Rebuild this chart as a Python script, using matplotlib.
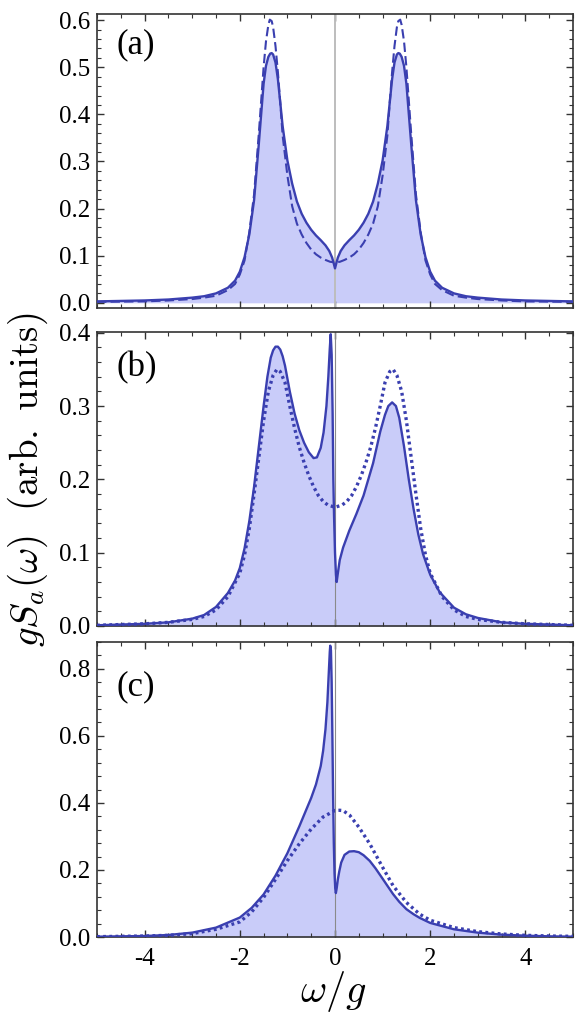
import matplotlib
matplotlib.use("Agg")
import matplotlib.pyplot as plt
from matplotlib.ticker import MultipleLocator, FormatStrFormatter

plt.rcParams['font.family'] = ['Liberation Serif', 'DejaVu Serif']
plt.rcParams['mathtext.fontset'] = 'cm'
plt.rcParams['axes.unicode_minus'] = False

# panel (a): solid (filled) and dashed curves
xa = [-5, -4.5, -4, -3.5, -3, -2.75, -2.5, -2.25, -2.1, -2.0, -1.9, -1.8, -1.7, -1.6, -1.5,
      -1.45, -1.4, -1.36, -1.33, -1.3, -1.25, -1.2, -1.15, -1.1, -1.0, -0.9, -0.8, -0.7,
      -0.6, -0.5, -0.4, -0.3, -0.2, -0.12, -0.06, -0.03, 0,
      0.03, 0.06, 0.12, 0.2, 0.3, 0.4, 0.5, 0.6, 0.7, 0.8, 0.9, 1.0, 1.1, 1.15, 1.2, 1.25,
      1.3, 1.33, 1.36, 1.4, 1.45, 1.5, 1.6, 1.7, 1.8, 1.9, 2.0, 2.1, 2.25, 2.5, 2.75, 3,
      3.5, 4, 4.5, 5]
ya_solid = [0.003, 0.004, 0.005, 0.007, 0.011, 0.014, 0.020, 0.032, 0.047, 0.066, 0.097,
            0.145, 0.218, 0.338, 0.465, 0.503, 0.522, 0.529, 0.530, 0.527, 0.510, 0.475,
            0.425, 0.375, 0.302, 0.253, 0.215, 0.189, 0.170, 0.155, 0.143, 0.133, 0.122,
            0.110, 0.096, 0.085, 0.073,
            0.085, 0.096, 0.110, 0.122, 0.133, 0.143, 0.155, 0.170, 0.189, 0.215, 0.253,
            0.302, 0.375, 0.425, 0.475, 0.510, 0.527, 0.530, 0.529, 0.522, 0.503, 0.465,
            0.338, 0.218, 0.145, 0.097, 0.066, 0.047, 0.032, 0.020, 0.014, 0.011, 0.007,
            0.005, 0.004, 0.003]
xa_dash = [-5, -4.5, -4, -3.5, -3, -2.75, -2.5, -2.25, -2.1, -2.0, -1.9, -1.8, -1.7, -1.6,
           -1.5, -1.45, -1.4, -1.37, -1.33, -1.3, -1.25, -1.2, -1.15, -1.1, -1.0, -0.9,
           -0.8, -0.7, -0.6, -0.5, -0.4, -0.3, -0.2, -0.1, 0,
           0.1, 0.2, 0.3, 0.4, 0.5, 0.6, 0.7, 0.8, 0.9, 1.0, 1.1, 1.15, 1.2, 1.25, 1.3,
           1.33, 1.37, 1.4, 1.45, 1.5, 1.6, 1.7, 1.8, 1.9, 2.0, 2.1, 2.25, 2.5, 2.75, 3,
           3.5, 4, 4.5, 5]
ya_dash = [0.002, 0.0025, 0.003, 0.005, 0.008, 0.011, 0.015, 0.027, 0.040, 0.060, 0.090,
           0.150, 0.230, 0.360, 0.500, 0.555, 0.590, 0.601, 0.598, 0.585, 0.545, 0.490,
           0.425, 0.355, 0.270, 0.205, 0.168, 0.145, 0.127, 0.113, 0.103, 0.096, 0.091,
           0.087, 0.086,
           0.087, 0.091, 0.096, 0.103, 0.113, 0.127, 0.145, 0.168, 0.205, 0.270, 0.355,
           0.425, 0.490, 0.545, 0.585, 0.598, 0.601, 0.590, 0.555, 0.500, 0.360, 0.230,
           0.150, 0.090, 0.060, 0.040, 0.027, 0.015, 0.011, 0.008, 0.005, 0.003, 0.0025,
           0.002]

# panel (b): solid (filled) and dotted curves
xb = [-5, -4.5, -4, -3.5, -3, -2.75, -2.5, -2.25, -2.1, -2.0, -1.9, -1.8, -1.7, -1.6, -1.5,
      -1.42, -1.35, -1.3, -1.25, -1.2, -1.15, -1.1, -1.05, -0.95, -0.85, -0.75, -0.65,
      -0.55, -0.45, -0.38, -0.3, -0.24, -0.18, -0.14, -0.11, -0.09, -0.07, -0.05, -0.035,
      -0.02, 0, 0.02, 0.035, 0.06, 0.1, 0.17, 0.3, 0.45, 0.6, 0.8, 0.95, 1.05, 1.12, 1.2,
      1.28, 1.35, 1.45, 1.55, 1.65, 1.75, 1.85, 2.0, 2.2, 2.5, 2.75, 3, 3.5, 4, 4.5, 5]
yb_solid = [0.001, 0.002, 0.003, 0.005, 0.010, 0.015, 0.026, 0.045, 0.062, 0.079, 0.106,
            0.143, 0.190, 0.245, 0.300, 0.340, 0.366, 0.376, 0.381, 0.381, 0.377, 0.368,
            0.355, 0.320, 0.290, 0.267, 0.250, 0.237, 0.229, 0.230, 0.243, 0.264, 0.300,
            0.340, 0.378, 0.398, 0.370, 0.290, 0.200, 0.150, 0.100, 0.070, 0.060, 0.072,
            0.090, 0.107, 0.130, 0.153, 0.178, 0.222, 0.265, 0.288, 0.300, 0.305, 0.300,
            0.284, 0.245, 0.200, 0.160, 0.125, 0.098, 0.070, 0.046, 0.025, 0.016, 0.011,
            0.005, 0.003, 0.002, 0.001]
xb_dot = [-5, -4.5, -4, -3.5, -3, -2.75, -2.5, -2.25, -2.0, -1.9, -1.8, -1.7, -1.6, -1.5,
          -1.4, -1.3, -1.22, -1.15, -1.05, -0.95, -0.85, -0.75, -0.65, -0.55, -0.45, -0.35,
          -0.25, -0.15, 0, 0.15, 0.25, 0.35, 0.45, 0.55, 0.65, 0.75, 0.85, 0.95, 1.05, 1.15,
          1.22, 1.3, 1.4, 1.5, 1.6, 1.7, 1.8, 1.9, 2.0, 2.25, 2.5, 2.75, 3, 3.5, 4, 4.5, 5]
yb_dot = [0.001, 0.002, 0.003, 0.005, 0.009, 0.013, 0.022, 0.040, 0.072, 0.097, 0.133,
          0.180, 0.230, 0.280, 0.320, 0.342, 0.350, 0.347, 0.332, 0.300, 0.270, 0.244,
          0.223, 0.205, 0.190, 0.178, 0.170, 0.165, 0.162, 0.165, 0.170, 0.178, 0.190,
          0.205, 0.223, 0.244, 0.270, 0.300, 0.332, 0.347, 0.350, 0.342, 0.320, 0.280,
          0.230, 0.180, 0.133, 0.097, 0.072, 0.040, 0.022, 0.013, 0.009, 0.005, 0.003,
          0.002, 0.001]

# panel (c): solid (filled) and dotted curves
xc = [-5, -4.5, -4, -3.5, -3, -2.5, -2.0, -1.75, -1.5, -1.25, -1.0, -0.75, -0.5, -0.4,
      -0.3, -0.25, -0.2, -0.16, -0.13, -0.11, -0.1, -0.085, -0.07, -0.055, -0.04, -0.025,
      -0.01, 0.005, 0.018, 0.035, 0.06, 0.09, 0.13, 0.2, 0.3, 0.4, 0.5, 0.6, 0.73, 0.85,
      1.0, 1.1, 1.22, 1.35, 1.5, 1.65, 1.78, 2.0, 2.5, 3, 3.5, 4, 4.5, 5]
yc_solid = [0.001, 0.002, 0.003, 0.006, 0.013, 0.028, 0.058, 0.087, 0.127, 0.183, 0.250,
            0.330, 0.415, 0.455, 0.510, 0.555, 0.620, 0.700, 0.790, 0.850, 0.869, 0.855,
            0.760, 0.600, 0.420, 0.280, 0.190, 0.145, 0.131, 0.145, 0.172, 0.196, 0.222,
            0.245, 0.255, 0.256, 0.253, 0.244, 0.227, 0.205, 0.174, 0.153, 0.128, 0.105,
            0.083, 0.068, 0.057, 0.042, 0.023, 0.013, 0.007, 0.004, 0.002, 0.001]
xc_dot = [-5, -4.5, -4, -3.5, -3, -2.5, -2.0, -1.75, -1.5, -1.25, -1.0, -0.75, -0.5, -0.25,
          0, 0.1, 0.17, 0.31, 0.5, 0.73, 1.0, 1.22, 1.5, 1.78, 2.0, 2.5, 3, 3.5, 4, 4.5, 5]
yc_dot = [0.001, 0.002, 0.003, 0.005, 0.010, 0.023, 0.045, 0.075, 0.118, 0.172, 0.228,
          0.278, 0.322, 0.358, 0.3775, 0.378, 0.377, 0.363, 0.328, 0.278, 0.208, 0.153,
          0.103, 0.068, 0.050, 0.028, 0.016, 0.009, 0.005, 0.003, 0.002]

line_col = '#3a3fb0'
fill_col = '#c9ccf9'

fig = plt.figure(figsize=(5.8, 10.21), dpi=100)
left, width = 97 / 580, 476 / 580
ax_a = fig.add_axes([left, 1 - 308 / 1021, width, 294 / 1021])
ax_b = fig.add_axes([left, 1 - 626 / 1021, width, 294 / 1021])
ax_c = fig.add_axes([left, 1 - 937 / 1021, width, 295 / 1021])

# (a)
ax_a.fill_between(xa, 0, ya_solid, color=fill_col, lw=0)
ax_a.axvline(0, color='#bdbdbd', lw=1.4, zorder=2)
ax_a.plot(xa, ya_solid, color=line_col, lw=1.7, zorder=3)
ax_a.plot(xa_dash, ya_dash, color=line_col, lw=1.5, dashes=(4.5, 2.0), zorder=3)
ax_a.set_ylim(-0.011, 0.613)
ax_a.yaxis.set_major_locator(MultipleLocator(0.1))
ax_a.yaxis.set_minor_locator(MultipleLocator(0.02))

# (b)
ax_b.fill_between(xb, 0, yb_solid, color=fill_col, lw=0)
ax_b.axvline(0, color='#8a8a8a', lw=0.8, zorder=2)
ax_b.plot(xb, yb_solid, color=line_col, lw=1.7, zorder=3)
ax_b.plot(xb_dot, yb_dot, color=line_col, lw=2.4, linestyle=(0, (0.85, 1.0)), zorder=3)
ax_b.set_ylim(0, 0.401)
ax_b.yaxis.set_major_locator(MultipleLocator(0.1))
ax_b.yaxis.set_minor_locator(MultipleLocator(0.02))

# (c)
ax_c.fill_between(xc, 0, yc_solid, color=fill_col, lw=0)
ax_c.axvline(0, color='#8a8a8a', lw=0.8, zorder=2)
ax_c.plot(xc, yc_solid, color=line_col, lw=1.7, zorder=3)
ax_c.plot(xc_dot, yc_dot, color=line_col, lw=2.4, linestyle=(0, (0.85, 1.0)), zorder=3)
ax_c.set_ylim(0, 0.88)
ax_c.yaxis.set_major_locator(MultipleLocator(0.2))
ax_c.yaxis.set_minor_locator(MultipleLocator(0.04))

for ax, lab, ty in [(ax_a, '(a)', 0.95), (ax_b, '(b)', 0.935), (ax_c, '(c)', 0.905)]:
    ax.set_xlim(-5, 5)
    ax.xaxis.set_major_locator(MultipleLocator(2))
    ax.xaxis.set_minor_locator(MultipleLocator(0.5))
    ax.yaxis.set_major_formatter(FormatStrFormatter('%.1f'))
    ax.tick_params(which='both', direction='in', top=True, right=True,
                   labelsize=18, color='#333333', pad=5)
    ax.tick_params(which='major', length=5, width=1.0)
    ax.tick_params(which='minor', length=3, width=0.8)
    for s in ax.spines.values():
        s.set_color('#333333')
        s.set_linewidth(1.2)
    ax.text(0.04, ty, lab, transform=ax.transAxes, fontsize=25, va='top', ha='left')

ax_a.tick_params(labelbottom=False)
ax_b.tick_params(labelbottom=False)
ax_c.tick_params(axis='x', pad=8)

fig.text(28 / 580, 1 - 480 / 1021, r'$gS_a(\omega)\ \ \mathrm{(arb.\ units)}$',
         rotation=90, fontsize=28, ha='center', va='center')
fig.text(333 / 580, 1 - 1002 / 1021, r'$\omega/g$', fontsize=29, ha='center', va='baseline')

plt.savefig('out.png', dpi=100)
